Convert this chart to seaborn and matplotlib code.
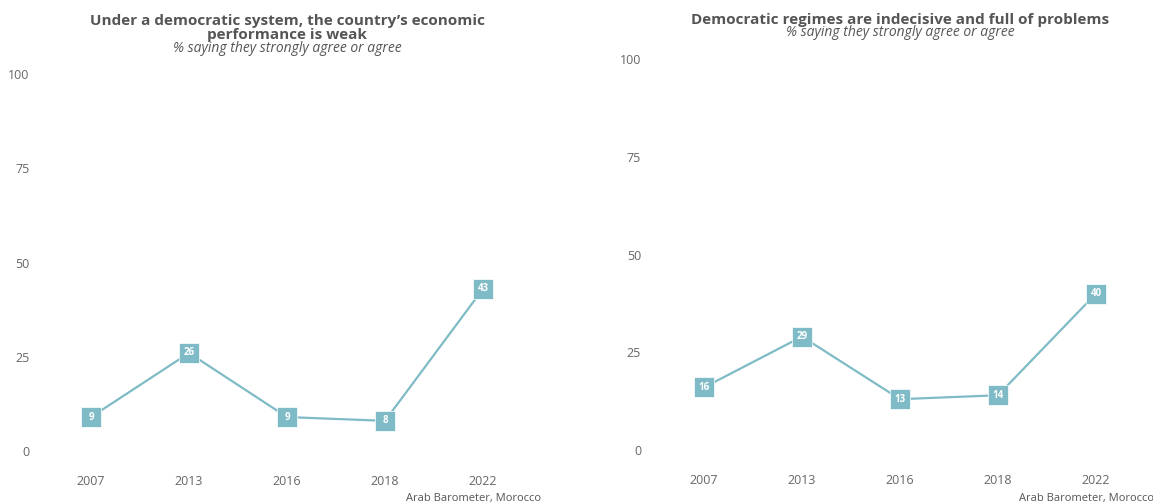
import pandas as pd
import matplotlib
matplotlib.use("Agg")
import matplotlib.pyplot as plt
import seaborn as sns

years = ["2007", "2013", "2016", "2018", "2022"]
econ_weak = [9, 26, 9, 8, 43]
indecisive = [16, 29, 13, 14, 40]

titles = ["Under a democratic system, the country\u2019s economic\nperformance is weak",
          "Democratic regimes are indecisive and full of problems"]
subtitle = "% saying they strongly agree or agree"
caption = "Arab Barometer, Morocco"

line_color = "#7fbbc6"
text_color = "#555555"
tick_color = "#666666"

sns.set_style("white")
plt.rcParams['font.family'] = ['Open Sans', 'DejaVu Sans']

W, H = 1153, 504
fig = plt.figure(figsize=(W / 100, H / 100), dpi=100)

# axes boxes in pixels: left, right, y0 pixel, y100 pixel
boxes = [(42, 532, 451, 74), (655, 1145, 450, 59)]
series = [econ_weak, indecisive]

for i, (l, r, y0, y100) in enumerate(boxes):
    ax = fig.add_axes([l / W, (H - y0) / H, (r - l) / W, (y0 - y100) / H])
    df = pd.DataFrame({'year': years, 'value': series[i]})
    sns.lineplot(data=df, x='year', y='value', ax=ax, color=line_color,
                 linewidth=1.6, marker='s', markersize=15,
                 markeredgecolor='white', markeredgewidth=0.5, clip_on=False)
    for j, v in enumerate(series[i]):
        ax.text(j, v, str(v), ha='center', va='center', color='white',
                fontsize=7, fontweight='bold', zorder=5)
    ax.set_xlim(-0.5, 4.5)
    ax.set_ylim(0, 100)
    ax.set_yticks([0, 25, 50, 75, 100])
    ax.set_xlabel('')
    ax.set_ylabel('')
    sns.despine(ax=ax, left=True, bottom=True)
    ax.tick_params(axis='both', length=0, labelsize=9, colors=tick_color)
    ax.tick_params(axis='x', pad=17)
    ax.tick_params(axis='y', pad=9 if i == 0 else 10)

    cx = (l + r) / 2 / W
    if i == 0:
        fig.text(cx, 1 - 28 / H, titles[i], ha='center', va='center',
                 fontsize=11, fontweight='bold', color=text_color, linespacing=0.92)
        fig.text(cx, 1 - 48 / H, subtitle, ha='center', va='center',
                 fontsize=10, style='italic', color=text_color)
    else:
        fig.text(cx, 1 - 20 / H, titles[i], ha='center', va='center',
                 fontsize=11, fontweight='bold', color=text_color)
        fig.text(cx, 1 - 33 / H, subtitle, ha='center', va='center',
                 fontsize=10, style='italic', color=text_color)
    fig.text((r + 9) / W, 1 - 498 / H, caption, ha='right', va='center',
             fontsize=8, color=text_color)

fig.savefig("out.png", dpi=100)
